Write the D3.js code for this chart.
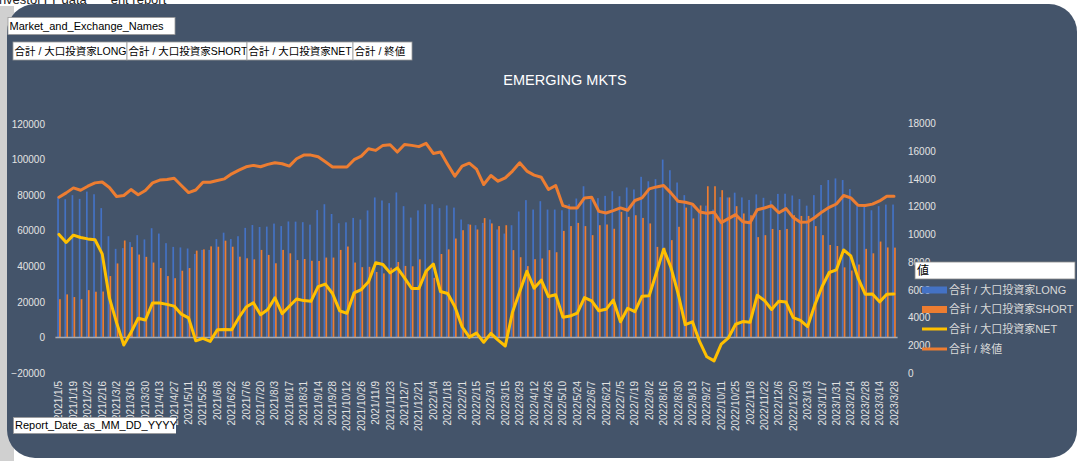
<!DOCTYPE html>
<html>
<head>
<meta charset="utf-8">
<script src="https://cdn.jsdelivr.net/npm/d3@7"></script>
<style>
  body { margin: 0; background: #ffffff; }
  svg text { font-family: "Liberation Sans", "Noto Sans CJK JP", sans-serif; }
</style>
</head>
<body>
<div id="chart"></div>
<script>
// weekly report dates, every Tuesday from 2021/1/5 to 2023/3/28
var START_DATE = new Date(2021, 0, 5);
var WEEKS = 117;
var dates = d3.range(WEEKS).map(function(i){ return d3.timeDay.offset(START_DATE, 7 * i); });
var fmt = d3.timeFormat("%Y/%-m/%-d");
var categories = dates.map(fmt);

var longPos = [79000,77700,80000,77900,82000,80500,72700,56900,49800,50200,
  53600,57500,55100,61400,58400,53000,50900,50600,50000,46900,
  49200,49200,55300,58900,55300,56900,61600,63200,62100,62300,
  64000,62600,65200,65100,64800,63400,71600,74900,69400,64200,
  64700,67200,66300,71400,78700,77000,75500,81500,73800,67400,
  71400,74900,74900,72700,74200,73000,66300,63700,63100,64400,
  66300,60700,58400,63100,70800,77200,71900,76600,71900,71900,
  71500,74900,78100,85000,77700,78300,79600,82200,79400,84300,
  83200,90300,87800,89000,100000,94000,87100,80000,75700,71800,
  74100,71900,78900,78700,81400,78700,77300,80400,78500,76900,
  80700,80800,79800,77800,74100,80000,85700,88500,89400,88500,
  83400,73800,73400,71500,73800,74700,74700];

var shortPos = [21500,24200,22700,21500,26600,25700,25800,34500,41600,54500,
  50800,46600,45300,42100,39000,34500,33300,37500,39000,48800,
  49500,51200,51000,54400,51000,45400,44500,43900,49200,46400,
  41700,49200,47300,43500,44100,43100,43000,44900,44900,49200,
  51100,42100,39500,39700,36800,36000,39200,42400,40200,40000,
  43900,37600,33500,46900,49500,55600,60300,63400,60700,67100,
  64100,62600,63100,49100,45100,40100,44000,44400,49100,47900,
  59900,62600,64400,62600,57500,63100,63500,61100,70600,67800,
  68700,67200,64100,50900,50400,54700,62200,73000,66900,74200,
  85000,85000,82800,78700,73800,69700,68700,56400,57500,61000,
  60400,61000,68700,68300,68300,62600,57500,52000,51400,39400,
  37600,41000,49800,47300,53900,50600,50500];

var netPos = [57900,53400,57500,56200,55400,54900,47000,22200,8300,-4300,
  2800,10800,9800,19400,19400,18600,17600,13100,11000,-1900,
  -500,-2200,4300,4400,4300,11200,17100,19500,12800,15700,
  22300,13400,17500,21600,20700,20300,28600,30000,24700,14900,
  13600,25100,26900,31300,42000,41000,36300,39100,33500,27500,
  27500,37300,41300,25800,24700,17300,6000,200,2400,-2700,
  2300,-1500,-4800,14200,25700,37200,27700,32200,23000,24000,
  11400,12000,13700,22400,20500,15000,15800,21000,8800,16400,
  14500,23200,23500,36500,49600,39500,24800,7200,8800,-2400,
  -10900,-13200,-3800,-200,7400,8900,8500,23700,20800,15700,
  20400,19900,11100,9600,6100,18300,28500,36500,38000,49200,
  45800,33500,24300,24400,20000,24300,24400];

var closeVal = [12680,12990,13350,13180,13470,13710,13770,13380,12730,12800,
  13230,12850,13160,13710,13910,13960,14040,13520,13010,13200,
  13760,13760,13880,14000,14360,14630,14870,14970,14870,15040,
  15160,15090,14920,15450,15710,15710,15590,15230,14860,14850,
  14850,15380,15640,16170,16050,16410,16460,15930,16480,16410,
  16320,16560,15830,15930,15040,14190,14920,15130,14700,13590,
  14240,13830,14070,14560,15160,14560,14270,14120,13230,13520,
  12070,11910,11910,12630,12680,11660,11540,11710,11910,11740,
  12440,12630,13280,13420,13520,12990,12390,12320,12180,11620,
  11520,11590,10850,11140,11420,10910,10840,11780,11900,12070,
  11560,11860,11210,10880,10890,11220,11620,11950,12190,12800,
  12630,12100,12080,12180,12410,12750,12750];

var leftTicks = [-20000,0,20000,40000,60000,80000,100000,120000];
var rightTicks = [0,2000,4000,6000,8000,10000,12000,14000,16000,18000];
var seriesNames = ["合計 / 大口投資家LONG","合計 / 大口投資家SHORT","合計 / 大口投資家NET","合計 / 終値"];

var W = 1079, H = 461;
var BG = "#44546a";
var BLUE = "#4472c4", ORANGE = "#ed7d31", YELLOW = "#ffc000";
var LABEL = "#e3e3e3";

var svg = d3.select("#chart").append("svg")
    .attr("width", W).attr("height", H);

// page bits behind the chart
svg.append("text").attr("x", -4).attr("y", 4).attr("font-size", 13)
    .attr("fill", "#222").text("investorTY data三  _ent report");
svg.append("rect").attr("x", 0).attr("y", 6).attr("width", 14).attr("height", H)
    .attr("fill", "#d0d0d0");
// chart card
svg.append("rect").attr("x", 7).attr("y", 4).attr("width", 1070).attr("height", 454)
    .attr("rx", 28).attr("fill", BG);

var x = d3.scaleBand().domain(categories).range([55.4, 897.6])
    .paddingInner(0.5).paddingOuter(0.25);
var x1 = d3.scaleBand().domain(["long","short"]).range([0, x.bandwidth()]).paddingInner(0.12);
var yL = d3.scaleLinear().domain([-20000, 120000]).range([373, 124]);
var yR = d3.scaleLinear().domain([0, 18000]).range([373.3, 123.3]);
function cx(d){ return x(d) + x.bandwidth() / 2; }

// title
svg.append("text").attr("x", 565).attr("y", 85).attr("text-anchor", "middle")
    .attr("font-size", 14.5).attr("fill", "#ffffff").text("EMERGING MKTS");

// left axis
var gL = svg.append("g").attr("transform", "translate(47,0)")
    .call(d3.axisLeft(yL).tickValues(leftTicks).tickSize(0).tickPadding(2).tickFormat(d3.format("d")));
gL.select(".domain").remove();
gL.selectAll("text").attr("font-size", 10).attr("fill", LABEL).style("font-family", null);

// right axis
var gR = svg.append("g").attr("transform", "translate(906,0)")
    .call(d3.axisRight(yR).tickValues(rightTicks).tickSize(0).tickPadding(2).tickFormat(d3.format("d")));
gR.select(".domain").remove();
gR.selectAll("text").attr("font-size", 10).attr("fill", LABEL).style("font-family", null);

// category axis, every other date labelled
var gX = svg.append("g").attr("transform", "translate(0,377)")
    .call(d3.axisBottom(x).tickValues(categories.filter(function(d,i){ return i % 2 == 0; }))
        .tickSize(0).tickPadding(0));
gX.select(".domain").remove();
gX.selectAll("text")
    .attr("transform", "rotate(-90)")
    .attr("text-anchor", "end")
    .attr("x", -4).attr("y", 0).attr("dy", "0.35em")
    .attr("font-size", 10).attr("fill", LABEL).style("font-family", null);

// bars
var bars = svg.append("g");
bars.selectAll(".long").data(categories).enter().append("rect")
    .attr("class", "long")
    .attr("x", function(d){ return x(d) + x1("long"); })
    .attr("width", x1.bandwidth())
    .attr("y", function(d,i){ return yL(longPos[i]); })
    .attr("height", function(d,i){ return yL(0) - yL(longPos[i]); })
    .attr("fill", BLUE);
bars.selectAll(".short").data(categories).enter().append("rect")
    .attr("class", "short")
    .attr("x", function(d){ return x(d) + x1("short"); })
    .attr("width", x1.bandwidth())
    .attr("y", function(d,i){ return yL(shortPos[i]); })
    .attr("height", function(d,i){ return yL(0) - yL(shortPos[i]); })
    .attr("fill", ORANGE);

// zero line
svg.append("line").attr("x1", 55.4).attr("x2", 897.6)
    .attr("y1", yL(0)).attr("y2", yL(0))
    .attr("stroke", "#a6acb5").attr("stroke-width", 1.5);

// net line (left axis)
var netLine = d3.line()
    .x(function(d,i){ return cx(categories[i]); })
    .y(function(d){ return yL(d); });
svg.append("path").datum(netPos).attr("d", netLine)
    .attr("fill", "none").attr("stroke", YELLOW).attr("stroke-width", 3)
    .attr("stroke-linejoin", "round").attr("stroke-linecap", "round");

// close line (right axis)
var closeLine = d3.line()
    .x(function(d,i){ return cx(categories[i]); })
    .y(function(d){ return yR(d); });
svg.append("path").datum(closeVal).attr("d", closeLine)
    .attr("fill", "none").attr("stroke", ORANGE).attr("stroke-width", 3)
    .attr("stroke-linejoin", "round").attr("stroke-linecap", "round");

// legend
var lg = svg.append("g");
lg.append("rect").attr("x", 915).attr("y", 262).attr("width", 160).attr("height", 17)
    .attr("fill", "#ffffff").attr("stroke", "#888").attr("stroke-width", 0.8);
lg.append("text").attr("x", 917).attr("y", 275).attr("font-size", 12).attr("fill", "#000").text("値");
var legendY = [290, 309.5, 329, 349];
seriesNames.forEach(function(name, i){
    var yy = legendY[i];
    if (i < 2) {
        lg.append("rect").attr("x", 922).attr("y", yy - 3.5).attr("width", 25).attr("height", 7)
            .attr("fill", i == 0 ? BLUE : ORANGE);
    } else {
        lg.append("line").attr("x1", 922).attr("x2", 947).attr("y1", yy).attr("y2", yy)
            .attr("stroke", i == 2 ? YELLOW : ORANGE).attr("stroke-width", 3);
    }
    lg.append("text").attr("x", 949).attr("y", yy).attr("dy", "0.35em")
        .attr("font-size", 11).attr("fill", "#d9d9d9").text(name);
});

// pivot field buttons
function fieldButton(x0, y0, w, h, label, size) {
    var g = svg.append("g");
    g.append("rect").attr("x", x0).attr("y", y0).attr("width", w).attr("height", h)
        .attr("fill", "#ffffff").attr("stroke", "#9a9a9a").attr("stroke-width", 0.8);
    g.append("text").attr("x", x0 + 1.5).attr("y", y0 + h / 2).attr("dy", "0.36em")
        .attr("font-size", size).attr("fill", "#000").text(label);
}
fieldButton(8, 17.5, 167, 17, "Market_and_Exchange_Names", 11);
fieldButton(13, 42, 114, 18, seriesNames[0], 10.5);
fieldButton(127, 42, 120, 18, seriesNames[1], 10.5);
fieldButton(247, 42, 106, 18, seriesNames[2], 10.5);
fieldButton(353, 42, 59, 18, seriesNames[3], 10.5);

// axis field button (drawn over the date labels, clipped like the original)
svg.append("clipPath").attr("id", "rdclip").append("rect")
    .attr("x", 13).attr("y", 417).attr("width", 163).attr("height", 18);
var rd = svg.append("g").attr("clip-path", "url(#rdclip)");
rd.append("rect").attr("x", 13.5).attr("y", 417.5).attr("width", 170).attr("height", 16)
    .attr("fill", "#ffffff").attr("stroke", "#9a9a9a").attr("stroke-width", 0.8);
rd.append("text").attr("x", 15).attr("y", 425.5).attr("dy", "0.36em")
    .attr("font-size", 11).attr("fill", "#000").text("Report_Date_as_MM_DD_YYYY");
</script>
</body>
</html>
